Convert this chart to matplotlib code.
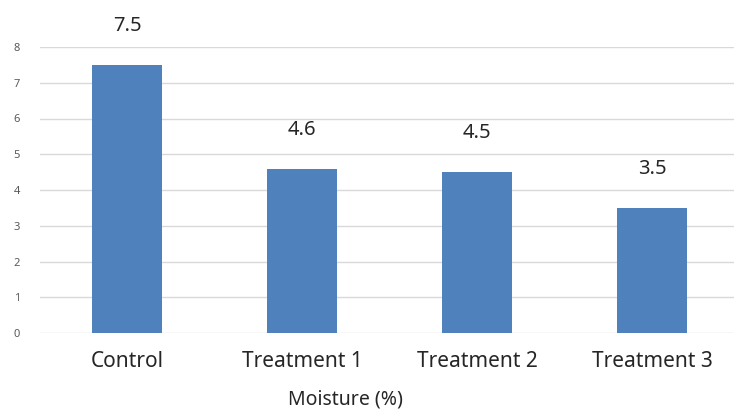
import matplotlib.pyplot as plt

categories = ['Control', 'Treatment 1', 'Treatment 2', 'Treatment 3']
moisture = [7.5, 4.6, 4.5, 3.5]
y_ticks = [0, 1, 2, 3, 4, 5, 6, 7, 8]

plt.rcParams['font.family'] = ['Noto Sans', 'DejaVu Sans']

fig = plt.figure(figsize=(7.34, 4.12), dpi=100)
ax = fig.add_axes([39.5 / 734, 79 / 412, 700 / 734, 286 / 412])

x = range(len(categories))
bars = ax.bar(x, moisture, width=0.4, color='#4F81BD', zorder=3)

# Data labels above each bar
for b, v in zip(bars, moisture):
    ax.annotate(f'{v}', (b.get_x() + b.get_width() / 2, v), xytext=(0, 28),
                textcoords='offset points', ha='center', va='center',
                fontsize=14.5, color='#262626')

ax.set_xlim(-0.5, len(categories) - 0.5)
ax.set_ylim(0, 8)
ax.set_yticks(y_ticks)
ax.set_xticks(list(x))
ax.set_xticklabels(categories, fontsize=15, color='#262626')
ax.tick_params(axis='y', labelsize=8, labelcolor='#595959', length=0, pad=14)
ax.tick_params(axis='x', length=0, pad=13)
ax.grid(axis='y', color='#D9D9D9', linewidth=1, zorder=0)
for s in ax.spines.values():
    s.set_visible(False)

ax.set_xlabel('Moisture (%)', fontsize=14, color='#262626', va='center')
ax.xaxis.set_label_coords((345 - 39.5) / 700, -(399 - 333) / 286)

fig.savefig('out.png', dpi=100)
